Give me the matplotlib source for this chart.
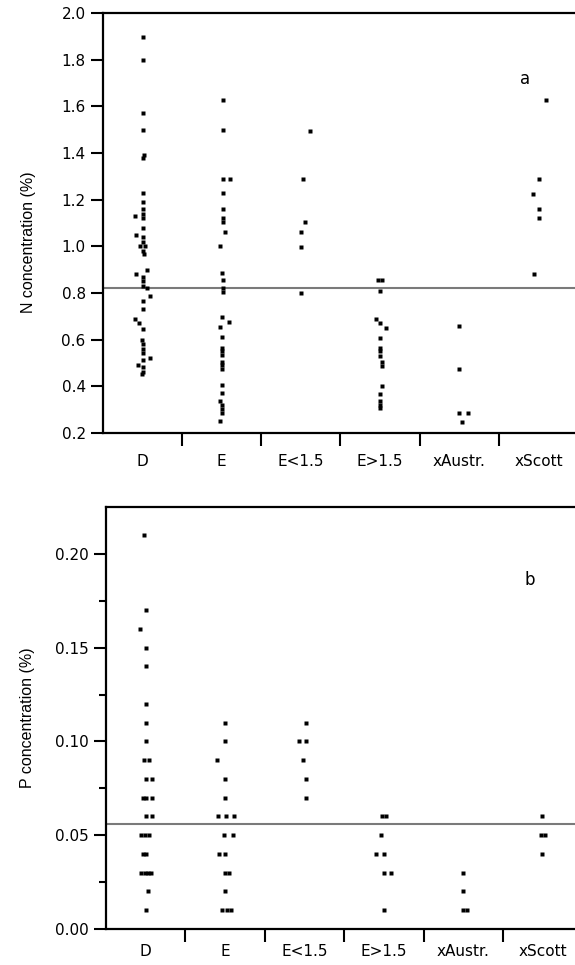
import matplotlib
matplotlib.use("Agg")
import matplotlib.pyplot as plt
import numpy as np

# ---------------- data ----------------
categories = ["D", "E", "E<1.5", "E>1.5", "xAustr.", "xScott"]

# N concentration (%) per group, with horizontal jitter (category units)
n_D = [1.90, 1.80, 1.57, 1.50, 1.39, 1.38, 1.23, 1.19, 1.16, 1.14, 1.13, 1.12, 1.08, 1.05,
       1.04, 1.02, 1.00, 1.00, 0.98, 0.965, 0.90, 0.88, 0.87, 0.85, 0.83, 0.82, 0.785,
       0.765, 0.73, 0.69, 0.67, 0.645, 0.60, 0.58, 0.56, 0.54, 0.52, 0.51, 0.49, 0.48,
       0.46, 0.45]
n_D_dx = [0.01, 0.01, 0.01, 0.01, 0.02, 0.01, 0.01, 0.01, 0.01, 0.01, -0.10, 0.01, 0.01, -0.08,
          0.01, 0.01, -0.03, 0.03, 0.01, 0.02, 0.06, -0.08, 0.01, 0.01, 0.01, 0.06, 0.10,
          0.01, 0.01, -0.10, -0.04, 0.01, -0.01, 0.01, 0.01, 0.01, 0.10, 0.01, -0.06, 0.01,
          0.01, -0.01]

n_E = [1.63, 1.50, 1.29, 1.29, 1.23, 1.16, 1.12, 1.105, 1.06, 1.00, 0.885, 0.855, 0.82,
       0.805, 0.695, 0.675, 0.655, 0.61, 0.565, 0.55, 0.535, 0.505, 0.49, 0.475, 0.405,
       0.37, 0.335, 0.32, 0.30, 0.285, 0.25]
n_E_dx = [0.01, 0.01, 0.01, 0.10, 0.01, 0.01, 0.01, 0.01, 0.04, -0.02, 0.0, 0.01, 0.01,
          0.01, 0.0, 0.09, -0.02, 0.0, 0.0, 0.0, 0.0, 0.0, 0.0, 0.0, 0.0,
          0.0, -0.02, 0.0, 0.0, 0.0, -0.02]

n_Elo = [1.495, 1.29, 1.105, 1.06, 0.995, 0.80]
n_Elo_dx = [0.11, 0.03, 0.055, 0.0, 0.0, 0.0]

n_Ehi = [0.855, 0.855, 0.81, 0.69, 0.67, 0.65, 0.605, 0.565, 0.55, 0.53, 0.505, 0.485,
         0.40, 0.366, 0.335, 0.32, 0.305]
n_Ehi_dx = [-0.02, 0.02, 0.0, -0.055, 0.0, 0.08, 0.0, 0.0, 0.0, 0.0, 0.025, 0.025,
            0.025, 0.0, 0.0, 0.0, 0.0]

n_Aus = [0.66, 0.475, 0.285, 0.285, 0.245]
n_Aus_dx = [0.0, 0.0, 0.0, 0.11, 0.03]

n_Sco = [1.63, 1.29, 1.225, 1.16, 1.12, 0.88]
n_Sco_dx = [0.10, 0.01, -0.07, 0.01, 0.01, -0.05]

n_mean = 0.82

# P concentration (%)
p_D = [0.21, 0.17, 0.16, 0.15, 0.14, 0.12, 0.11, 0.10, 0.09, 0.09, 0.08, 0.08,
       0.07, 0.07, 0.07, 0.06, 0.06, 0.05, 0.05, 0.05, 0.04, 0.04,
       0.03, 0.03, 0.03, 0.03, 0.02, 0.01]
p_D_dx = [-0.02, 0.0, -0.07, 0.0, 0.0, 0.0, 0.0, 0.0, -0.02, 0.04, 0.0, 0.08,
          -0.04, 0.01, 0.08, 0.0, 0.08, -0.06, -0.01, 0.04, -0.035, 0.0,
          -0.06, -0.015, 0.03, 0.065, 0.03, 0.0]

p_E = [0.11, 0.10, 0.09, 0.08, 0.07, 0.06, 0.06, 0.06, 0.05, 0.05, 0.04, 0.04,
       0.03, 0.03, 0.02, 0.01, 0.01, 0.01]
p_E_dx = [0.0, 0.0, -0.10, 0.0, 0.0, -0.095, 0.01, 0.11, -0.01, 0.095, -0.08, 0.0,
          0.005, 0.055, 0.0, -0.035, 0.02, 0.08]

p_Elo = [0.11, 0.10, 0.10, 0.09, 0.08, 0.07]
p_Elo_dx = [0.015, -0.075, 0.015, -0.02, 0.015, 0.015]

p_Ehi = [0.06, 0.06, 0.05, 0.04, 0.04, 0.03, 0.03, 0.01]
p_Ehi_dx = [-0.02, 0.03, -0.035, -0.10, -0.005, 0.0, 0.09, 0.0]

p_Aus = [0.03, 0.02, 0.01, 0.01]
p_Aus_dx = [0.0, 0.0, -0.005, 0.045]

p_Sco = [0.06, 0.05, 0.05, 0.04]
p_Sco_dx = [-0.01, -0.02, 0.035, -0.01]

p_mean = 0.056

n_groups = [(n_D, n_D_dx), (n_E, n_E_dx), (n_Elo, n_Elo_dx), (n_Ehi, n_Ehi_dx),
            (n_Aus, n_Aus_dx), (n_Sco, n_Sco_dx)]
p_groups = [(p_D, p_D_dx), (p_E, p_E_dx), (p_Elo, p_Elo_dx), (p_Ehi, p_Ehi_dx),
            (p_Aus, p_Aus_dx), (p_Sco, p_Sco_dx)]

n_yticks = [0.2, 0.4, 0.6, 0.8, 1.0, 1.2, 1.4, 1.6, 1.8, 2.0]
n_yticklabels = ["0.2", "0.4", "0.6", "0.8", "1.0", "1.2", "1.4", "1.6", "1.8", "2.0"]
p_yticks = [0.0, 0.05, 0.10, 0.15, 0.20]
p_yticklabels = ["0.00", "0.05", "0.10", "0.15", "0.20"]
p_yminor = [0.025, 0.075, 0.125, 0.175]

# ---------------- figure ----------------
plt.rcParams["font.family"] = ["DejaVu Sans"]
W, H = 575, 965
fig = plt.figure(figsize=(W / 100, H / 100), dpi=100)

ax1 = fig.add_axes([103 / W, 1 - 432.7 / H, 475 / W, 419.4 / H])
ax2 = fig.add_axes([106 / W, 1 - 928.7 / H, 476.4 / W, 421.4 / H])


def style(ax, groups, mean, yticks, ylabels, ylim, ylabel, letter, letter_xy,
          minor=None, xpad=15):
    for i, (vals, dx) in enumerate(groups):
        ax.plot(np.full(len(vals), i) + np.array(dx), vals, "s", ms=3.1,
                color="black", mec="none", zorder=3, clip_on=False)
    ax.axhline(mean, color="#7a7a7a", lw=1.5, zorder=1)
    ax.set_xlim(-0.5, 5.5)
    ax.set_ylim(*ylim)
    ax.spines["right"].set_visible(False)
    for s in ["top", "left", "bottom"]:
        ax.spines[s].set_linewidth(1.6)
    ax.set_xticks(np.arange(0.5, 5.0, 1.0))
    ax.set_xticklabels([])
    ax.set_xticks(np.arange(len(categories)), minor=True)
    ax.set_xticklabels(categories, minor=True, fontsize=11)
    ax.tick_params(axis="x", which="major", direction="out", length=9, width=1.5)
    ax.tick_params(axis="x", which="minor", length=0, pad=xpad)
    ax.set_yticks(yticks)
    ax.set_yticklabels(ylabels, fontsize=11)
    if minor is not None:
        ax.set_yticks(minor, minor=True)
        ax.tick_params(axis="y", which="minor", direction="out", length=5, width=1.5)
    ax.tick_params(axis="y", which="major", direction="out", length=8.5, width=1.5, pad=4)
    ax.set_ylabel(ylabel, fontsize=11.5, family="Liberation Sans")
    ax.text(letter_xy[0], letter_xy[1], letter, fontsize=12, ha="center", va="center")


style(ax1, n_groups, n_mean, n_yticks, n_yticklabels, (0.2, 2.0),
      "N concentration (%)", "a", (4.83, 1.72), xpad=15)
ax1.yaxis.set_label_coords(-0.14, 0.455)

style(ax2, p_groups, p_mean, p_yticks, p_yticklabels, (0.0, 0.225),
      "P concentration (%)", "b", (4.84, 0.186), minor=p_yminor, xpad=11)
ax2.yaxis.set_label_coords(-0.148, 0.5)

fig.savefig("out.png", dpi=100)
